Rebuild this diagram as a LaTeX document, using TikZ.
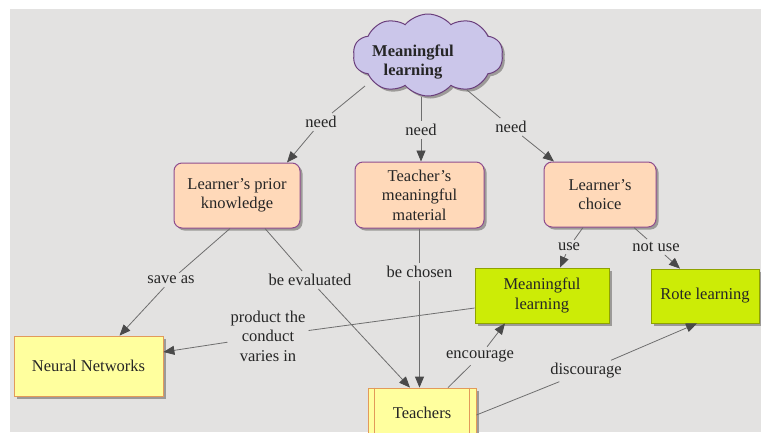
\documentclass[tikz,border=0pt]{standalone}
\usepackage{fontspec}
\setmainfont{Liberation Serif}
\usetikzlibrary{shapes.symbols,shadows,arrows.meta}
\definecolor{bggray}{HTML}{E3E2E1}
\definecolor{linegray}{HTML}{6E6E6E}
\definecolor{tipgray}{HTML}{4A4A4A}
\definecolor{cloudfill}{HTML}{CBC6EA}
\definecolor{cloudline}{HTML}{6A3E7C}
\definecolor{peachfill}{HTML}{FFD9B9}
\definecolor{peachline}{HTML}{8E4C8E}
\definecolor{greenfill}{HTML}{CCEC06}
\definecolor{greenline}{HTML}{8FA200}
\definecolor{yellowfill}{HTML}{FFFF9E}
\definecolor{yellowline}{HTML}{E29A5A}
\definecolor{shadowgray}{HTML}{9C9A98}
\begin{document}
\begin{tikzpicture}[x=1pt,y=-1pt,
  every node/.style={font=\rmfamily\fontsize{16.5}{19.5}\selectfont, align=center, text=black!85},
  shad/.style={drop shadow={shadow xshift=2.5pt, shadow yshift=-2.5pt, fill=shadowgray, opacity=1}},
  conn/.style={draw=linegray, line width=0.8pt},
  arr/.style={conn, -{Triangle[length=11pt,width=9pt,color=tipgray]}},
  lbl/.style={inner sep=3pt},
  peachbox/.style={shad, draw=peachline, fill=peachfill, rounded corners=8pt, line width=1pt, inner sep=0pt},
  greenbox/.style={shad, draw=greenline, fill=greenfill, line width=0.8pt, inner sep=0pt},
  yellowbox/.style={shad, draw=yellowline, fill=yellowfill, line width=0.8pt, inner sep=0pt},
]
\useasboundingbox (0,0) rectangle (761,432);
\fill[bggray] (10,9) rectangle (761,432);

% concept nodes
\node[cloud, cloud puffs=10, cloud puff arc=100, aspect=1.9, shad, draw=cloudline, fill=cloudfill,
      line width=1pt, minimum width=150pt, minimum height=82pt] (mlc) at (428,55) {};
\node[font=\rmfamily\fontsize{16.5}{19.5}\selectfont\bfseries] (mlt) at (413,62) {Meaningful\\learning};

\node[peachbox, minimum width=126pt, minimum height=65pt] (lpk) at (237,195.5) {Learner’s prior\\knowledge};
\node[peachbox, minimum width=129pt, minimum height=66pt] (tmm) at (419.5,195) {Teacher’s\\meaningful\\material};
\node[peachbox, minimum width=112pt, minimum height=65pt] (lc) at (600,194.5) {Learner’s\\choice};

\node[greenbox, minimum width=134pt, minimum height=55pt] (ml) at (542,295.5) {Meaningful\\learning};
\node[greenbox, minimum width=108pt, minimum height=54pt] (rote) at (705,296) {Rote learning};

\node[yellowbox, minimum width=149pt, minimum height=60pt] (nn) at (88.5,366) {Neural Networks};
\node[yellowbox, minimum width=108pt, minimum height=50pt] (tch) at (422,413) {Teachers};
\draw[yellowline, line width=0.8pt] ([xshift=7pt]tch.north west) -- ([xshift=7pt]tch.south west);
\draw[yellowline, line width=0.8pt] ([xshift=-7pt]tch.north east) -- ([xshift=-7pt]tch.south east);

% linking phrases
\node[lbl] (n1) at (321,122) {need};
\node[lbl] (n2) at (421,130) {need};
\node[lbl] (n3) at (511,127) {need};
\node[lbl] (sa) at (171,280) {save as};
\node[lbl] (be) at (310,280) {be evaluated};
\node[lbl] (bc) at (419.5,272) {be chosen};
\node[lbl] (us) at (569,247) {use};
\node[lbl] (nu) at (656,247) {not use};
\node[lbl] (pc) at (268,336) {product the\\conduct\\varies in};
\node[lbl] (en) at (480,356) {encourage};
\node[lbl] (dc) at (586,371) {discourage};

% connectors
\draw[conn] ([xshift=-63pt,yshift=-31pt]mlc.center) -- (n1);
\draw[arr] (n1) -- ([xshift=50pt]lpk.north);
\draw[conn] (n2 |- mlc.south) -- (n2);
\draw[arr] (n2) -- (n2 |- tmm.north);
\draw[conn] ([xshift=39pt,yshift=-35pt]mlc.center) -- (n3);
\draw[arr] (n3) -- ([xshift=-46pt]lc.north);

\draw[conn] ([xshift=-7pt]lpk.south) -- (sa);
\draw[arr] (sa) -- ([xshift=31pt]nn.north);
\draw[conn] ([xshift=28pt]lpk.south) -- (be);
\draw[arr] (be) -- ([xshift=-12pt]tch.north);
\draw[conn] (tmm.south) -- (bc);
\draw[arr] (bc) -- (bc |- tch.north);

\draw[conn] ([xshift=-17pt]lc.south) -- (us);
\draw[arr] (us) -- ([xshift=18pt]ml.north);
\draw[conn] ([xshift=34pt]lc.south) -- (nu);
\draw[arr] (nu) -- ([xshift=-25pt]rote.north);

\draw[conn] ([yshift=-12.5pt]ml.west) -- (pc);
\draw[arr] (pc) -- ([yshift=14pt]nn.east);

\draw[conn] ([xshift=26pt]tch.north) -- (en);
\draw[arr] (en) -- ([xshift=-37pt]ml.south);
\draw[conn] ([yshift=-2pt]tch.east) -- (dc);
\draw[arr] (dc) -- ([xshift=-8pt]rote.south);
\end{tikzpicture}
\end{document}
